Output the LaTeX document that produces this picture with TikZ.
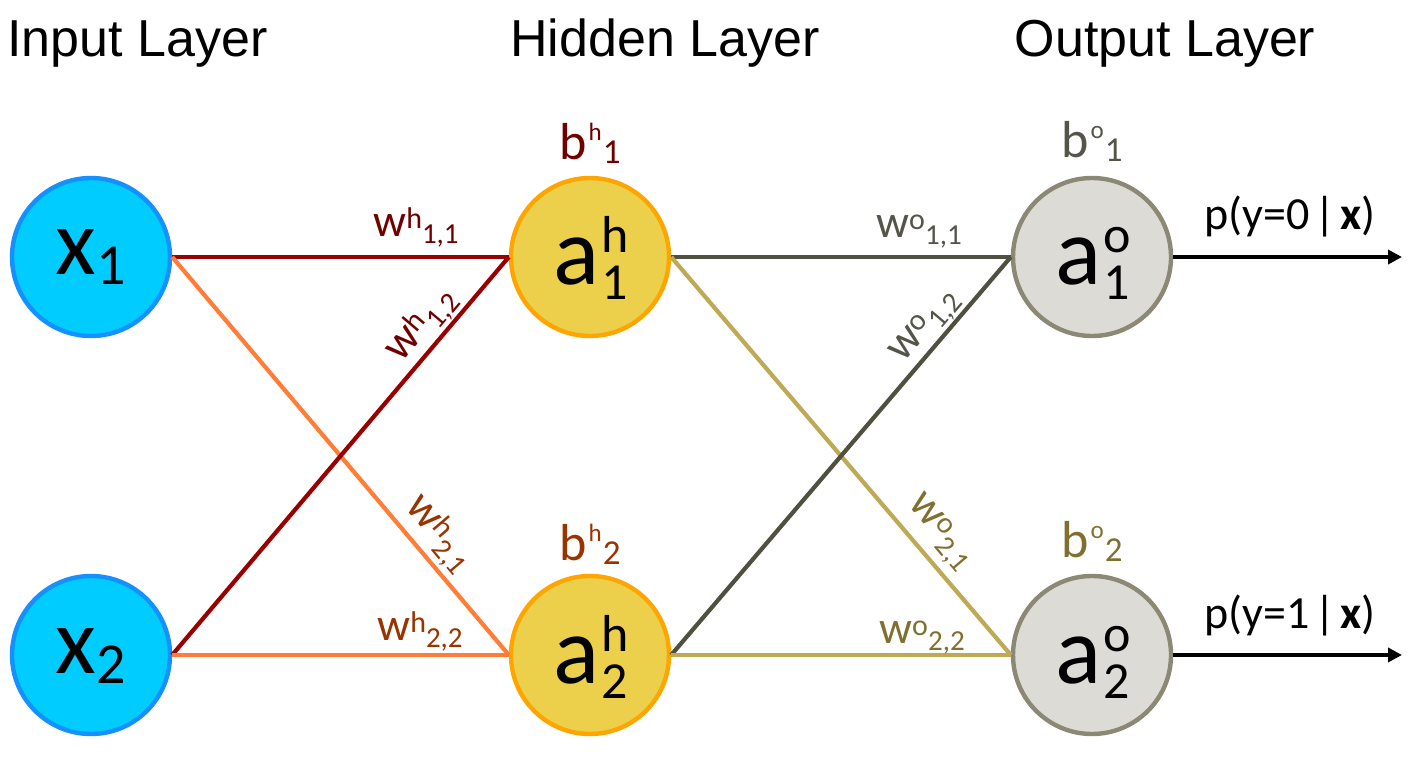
\documentclass[tikz,border=0pt]{standalone}
\usepackage{fontspec}
\setmainfont{Carlito}
\newfontfamily\headfont{Liberation Sans}
\usetikzlibrary{arrows.meta}
\definecolor{infill}{RGB}{0,204,255}
\definecolor{inborder}{RGB}{20,144,255}
\definecolor{hidfill}{RGB}{236,208,76}
\definecolor{hidborder}{RGB}{255,165,0}
\definecolor{outfill}{RGB}{220,219,214}
\definecolor{outborder}{RGB}{140,136,118}
\definecolor{lineA}{RGB}{153,0,0}
\definecolor{textA}{RGB}{112,0,0}
\definecolor{lineB}{RGB}{255,125,55}
\definecolor{textB}{RGB}{153,51,0}
\definecolor{lineC}{RGB}{80,80,64}
\definecolor{textC}{RGB}{85,84,72}
\definecolor{lineD}{RGB}{190,170,85}
\definecolor{textD}{RGB}{128,112,48}
\newcommand\xsub[2]{\fontsize{47}{50}\selectfont #1\raisebox{-5pt}{\fontsize{29}{32}\selectfont #2}}
\newcommand\astk[3]{\fontsize{48}{50}\selectfont #1\kern1pt\rlap{\raisebox{16pt}{\fontsize{26}{28}\selectfont #2}}\raisebox{-7.5pt}{\fontsize{26}{28}\selectfont #3}}
\newcommand\blab[3]{\fontsize{26}{28}\selectfont #1\kern1pt\raisebox{9.5pt}{\fontsize{12.5}{14}\selectfont #2}\kern0.5pt\raisebox{-2pt}{\fontsize{17.5}{19}\selectfont #3}}
\newcommand\wlab[3]{\fontsize{23}{25}\selectfont #1\raisebox{4pt}{\fontsize{15}{17}\selectfont #2}\raisebox{-3.5pt}{\fontsize{14.5}{16}\selectfont #3}}
\begin{document}
\begin{tikzpicture}[x=0.5pt,y=-0.5pt,
  neuron/.style={circle, line width=2.2pt, minimum size=79pt, inner sep=0pt},
  innode/.style={neuron, draw=inborder, fill=infill},
  hidnode/.style={neuron, draw=hidborder, fill=hidfill},
  outnode/.style={neuron, draw=outborder, fill=outfill},
  conn/.style={line width=2.1pt},
  txt/.style={inner sep=0pt, anchor=base},
  head/.style={txt, font=\headfont\fontsize{26}{28}\selectfont},
  plab/.style={txt, font=\fontsize{23}{25}\selectfont},
  outarrow/.style={line width=2.1pt, -{Triangle[length=7pt,width=7pt]}}
]
\useasboundingbox (0,0) rectangle (1416,774);
% headers
\node[head, anchor=base west] (hin) at (7,57) {Input Layer};
\node[head] (hhid) at (665,57) {Hidden Layer};
\node[head] (hout) at (1165,57) {Output Layer};
% neurons
\node[innode] (x1) at (91,257) {};
\node[innode] (x2) at (91,655) {};
\node[hidnode] (h1) at (590,257) {};
\node[hidnode] (h2) at (590,655) {};
\node[outnode] (o1) at (1092,257) {};
\node[outnode] (o2) at (1092,655) {};
% neuron texts
\node[txt] (tx1) at (91,275) {\xsub{x}{1}};
\node[txt] (tx2) at (91,673) {\xsub{x}{2}};
\node[txt] (th1) at (591,285) {\astk{a}{h}{1}};
\node[txt] (th2) at (591,683) {\astk{a}{h}{2}};
\node[txt] (to1) at (1093,285) {\astk{a}{o}{1}};
\node[txt] (to2) at (1093,683) {\astk{a}{o}{2}};
% biases
\node[txt, text=textA] (bh1) at (590,160) {\blab{b}{h}{1}};
\node[txt, text=textB] (bh2) at (590,560) {\blab{b}{h}{2}};
\node[txt, text=textC] (bo1) at (1092,158) {\blab{b}{o}{1}};
\node[txt, text=textD] (bo2) at (1092,557) {\blab{b}{o}{2}};
% connections input -> hidden
\draw[conn, lineA] (x1.east) -- (h1.west);
\draw[conn, lineB] (x1.east) -- (h2.west);
\draw[conn, lineA] (x2.east) -- (h1.west);
\draw[conn, lineB] (x2.east) -- (h2.west);
% connections hidden -> output
\draw[conn, lineC] (h1.east) -- (o1.west);
\draw[conn, lineD] (h1.east) -- (o2.west);
\draw[conn, lineC] (h2.east) -- (o1.west);
\draw[conn, lineD] (h2.east) -- (o2.west);
% weight labels
\node[txt, text=textA] (w11h) at (416,237) {\wlab{w}{h}{1,1}};
\node[txt, text=textA, rotate=49.7] (w12h) at (429,331) {\wlab{w}{h}{1,2}};
\node[txt, text=textB, rotate=-49.7] (w21h) at (432,540) {\wlab{w}{h}{2,1}};
\node[txt, text=textB] (w22h) at (420,640) {\wlab{w}{h}{2,2}};
\node[txt, text=textC] (w11o) at (919,238) {\wlab{w}{o}{1,1}};
\node[txt, text=textC, rotate=49.7] (w12o) at (931,331) {\wlab{w}{o}{1,2}};
\node[txt, text=textD, rotate=-49.7] (w21o) at (935,537) {\wlab{w}{o}{2,1}};
\node[txt, text=textD] (w22o) at (922,643) {\wlab{w}{o}{2,2}};
% outputs
\coordinate (e1) at (1402,257);
\coordinate (e2) at (1402,655);
\draw[outarrow] (o1.east) -- (e1);
\draw[outarrow] (o2.east) -- (e2);
\node[plab] (p1) at (1290,230) {p(y=0\kern2.5pt|\kern2.5pt\textbf{x})};
\node[plab] (p2) at (1290,628) {p(y=1\kern2.5pt|\kern2.5pt\textbf{x})};
\end{tikzpicture}
\end{document}
